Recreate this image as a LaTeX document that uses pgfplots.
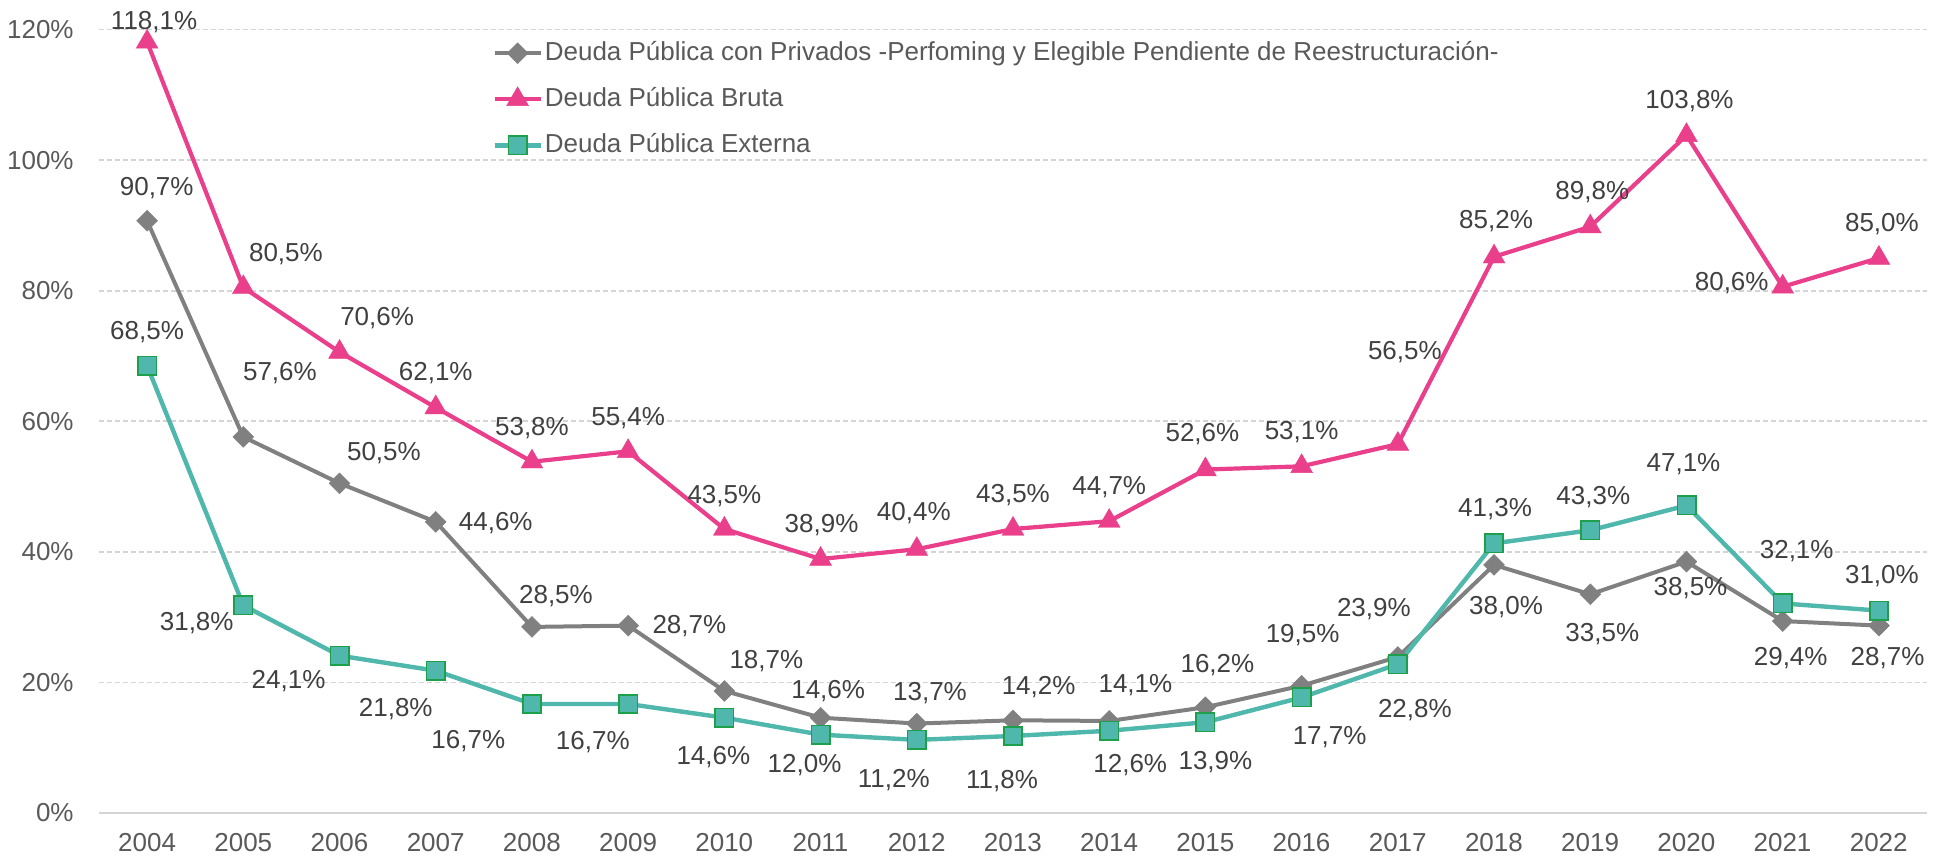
\documentclass[border=0pt]{standalone}
\usepackage{pgfplots}
\usepackage{pgfplotstable}
\pgfplotsset{compat=1.18}
\usepackage{fontspec}
\setmainfont{Liberation Sans}
\definecolor{cpink}{RGB}{234,64,140}
\definecolor{cgray}{RGB}{128,128,128}
\definecolor{cteal}{RGB}{80,183,172}
\definecolor{cgreen}{RGB}{30,160,75}
\definecolor{cgrid}{RGB}{212,212,212}
\definecolor{clabel}{RGB}{64,64,64}
\definecolor{ctick}{RGB}{89,89,89}

\pgfplotstableread{
x y dx dy
2004 90.7 4.8 16.2
2005 57.6 18.3 31.7
2006 50.5 22.2 15.2
2007 44.6 30.0 -0.4
2008 28.5 12.0 15.6
2009 28.7 30.6 -0.2
2010 18.7 21.0 14.7
2011 14.6 3.8 13.3
2012 13.7 6.6 15.1
2013 14.2 12.8 16.8
2014 14.1 13.1 18.0
2015 16.2 6.0 21.1
2016 19.5 0.5 25.3
2017 23.9 -12.0 23.8
2018 38.0 6.0 -20.9
2019 33.5 6.0 -19.8
2020 38.5 2.0 -13.3
2021 29.4 4.0 -18.6
2022 28.7 4.3 -16.3
}\tgray

\pgfplotstableread{
x y dx dy
2004 118.1 3.5 10.1
2005 80.5 21.3 16.5
2006 70.6 18.8 17.1
2007 62.1 0.0 17.0
2008 53.8 0.0 16.7
2009 55.4 0.0 16.5
2010 43.5 0.0 16.5
2011 38.9 0.5 17.0
2012 40.4 -1.5 18.0
2013 43.5 0.0 17.0
2014 44.7 0.0 17.0
2015 52.6 -1.5 17.5
2016 53.1 0.0 17.0
2017 56.5 3.5 46.0
2018 85.2 1.0 18.0
2019 89.8 1.0 17.5
2020 103.8 1.5 17.2
2021 80.6 -25.5 1.7
2022 85.0 1.5 17.0
}\tpink

\pgfplotstableread{
x y dx dy
2004 68.5 0.0 17.0
2005 31.8 -23.3 -9.0
2006 24.1 -25.5 -12.5
2007 21.8 -20.0 -19.1
2008 16.7 -31.8 -18.5
2009 16.7 -17.7 -19.3
2010 14.6 -5.5 -19.5
2011 12.0 -8.0 -15.2
2012 11.2 -11.5 -20.0
2013 11.8 -5.5 -22.8
2014 12.6 10.5 -17.2
2015 13.9 5.0 -19.7
2016 17.7 14.0 -19.7
2017 22.8 8.5 -23.0
2018 41.3 0.5 17.0
2019 43.3 1.5 16.8
2020 47.1 -1.5 20.7
2021 32.1 7.0 26.3
2022 31.0 1.5 17.3
}\tteal

\pgfplotsset{
  lbl/.style={
    point meta=y,
    nodes near coords={\pgfmathprintnumber[fixed,fixed zerofill,precision=1,use comma]{\pgfplotspointmeta}\%},
    visualization depends on={\thisrow{dx}\as\dx},
    visualization depends on={\thisrow{dy}\as\dy},
    every node near coord/.append style={anchor=center, xshift=\dx pt, yshift=\dy pt,
      font=\fontsize{13}{15}\selectfont, text=clabel, inner sep=0pt},
  }
}

\begin{document}
\begin{tikzpicture}
\begin{axis}[
  scale only axis, width=914pt, height=391.75pt,
  xmin=2003.5, xmax=2022.5, ymin=0, ymax=120,
  clip=false,
  /pgf/number format/assume math mode=true,
  xtick={2004,...,2022},
  xticklabels={2004,2005,2006,2007,2008,2009,2010,2011,2012,2013,2014,2015,2016,2017,2018,2019,2020,2021,2022},
  ytick={0,20,40,60,80,100,120},
  yticklabels={0\%,20\%,40\%,60\%,80\%,100\%,120\%},
  axis line style={draw=none},
  tick style={draw=none}, major tick length=0pt,
  ymajorgrids,
  grid style={cgrid, dash pattern=on 2.5pt off 1.5pt, line width=0.85pt},
  tick label style={font=\fontsize{13}{15}\selectfont, text=ctick},
  xticklabel style={anchor=center, yshift=-15pt},
  yticklabel style={anchor=east, inner sep=0pt, xshift=-12.5pt},
  legend style={at={(rel axis cs:0.2150,1)}, anchor=north west, yshift=-4.2pt,
    draw=none, fill=none, inner sep=0pt, row sep=8pt,
    font=\fontsize{13}{15}\selectfont, text=ctick,
    nodes={inner sep=1pt, text height=10pt, text depth=3pt},
    /tikz/every even column/.append style={column sep=0pt}},
  legend cell align=left,
  legend image code/.code={\draw[mark repeat=2,mark phase=2] plot coordinates {(0pt,0pt) (11.5pt,0pt) (23pt,0pt)};},
]
\draw[cgrid, line width=1pt] (rel axis cs:0,0) -- (rel axis cs:1,0);
\coordinate (bl) at (rel axis cs:0,0);
\coordinate (tr) at (rel axis cs:1,1);

\addplot[cgray, line width=2pt, mark=square*, mark size=3.7pt,
  mark options={rotate=45, solid, fill=cgray, draw=cgray, line width=0.2pt}, lbl]
  table[x=x,y=y] {\tgray};
\addlegendentry{Deuda Pública con Privados -Perfoming y Elegible Pendiente de Reestructuración-}

\addplot[cpink, line width=2.1pt, mark=triangle*, mark size=6.3pt,
  mark options={solid, fill=cpink, draw=cpink, line width=0.2pt}, lbl]
  table[x=x,y=y] {\tpink};
\addlegendentry{Deuda Pública Bruta}

\addplot[cteal, line width=2.2pt, mark=square*, mark size=4.6pt,
  mark options={solid, fill=cteal, draw=cgreen, line width=0.8pt}, lbl]
  table[x=x,y=y] {\tteal};
\addlegendentry{Deuda Pública Externa}
\end{axis}
\pgfresetboundingbox
\useasboundingbox ([shift={(-49.5pt,-22.5pt)}]bl) rectangle ([shift={(6.5pt,14.75pt)}]tr);
\end{tikzpicture}
\end{document}
